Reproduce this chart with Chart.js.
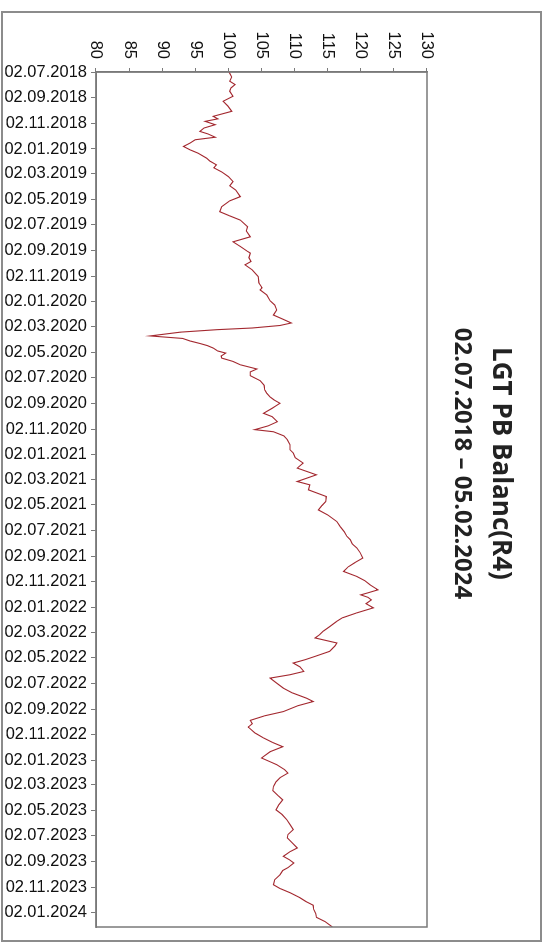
<!DOCTYPE html>
<html lang="de">
<head>
    <meta charset="UTF-8">
    <title>LGT PB Balanc(R4)</title>
    <style>
        body {
            margin: 0;
            width: 548px;
            height: 943px;
            overflow: hidden;
            background: #fff;
            position: relative;
        }

        /* scanned page frame */
        .frame {
            position: absolute;
            left: 1px;
            top: 11px;
            width: 537px;
            height: 927px;
            border: 2px solid #8c8c8c;
        }

        /* the chart is printed sideways: draw it landscape, turn it 90deg */
        .turn {
            position: absolute;
            left: 548px;
            top: 0;
            width: 943px;
            height: 548px;
            transform-origin: 0 0;
            transform: rotate(90deg);
        }
    </style>
</head>
<body>
    <div class="turn"><canvas id="chart" width="943" height="548"></canvas></div>
    <div class="frame"></div>
    <script src="https://cdn.jsdelivr.net/npm/chart.js"></script>
    <script>
        // Series start and end
        const startDate = '02.07.2018';
        const endDate = '05.02.2024';

        // Date axis tick labels
        const tickLabels = [
            '02.07.2018', '02.09.2018', '02.11.2018',
            '02.01.2019', '02.03.2019', '02.05.2019', '02.07.2019', '02.09.2019', '02.11.2019',
            '02.01.2020', '02.03.2020', '02.05.2020', '02.07.2020', '02.09.2020', '02.11.2020',
            '02.01.2021', '02.03.2021', '02.05.2021', '02.07.2021', '02.09.2021', '02.11.2021',
            '02.01.2022', '02.03.2022', '02.05.2022', '02.07.2022', '02.09.2022', '02.11.2022',
            '02.01.2023', '02.03.2023', '02.05.2023', '02.07.2023', '02.09.2023', '02.11.2023',
            '02.01.2024'
        ];

        // Value axis
        const valueMin = 80;
        const valueMax = 130;
        const valueStep = 5;

        // Days since 02.07.2018 of each read point
        const days = [
            0, 12, 22, 30, 38, 46, 58, 70, 81, 94,
            106, 112, 118, 126, 134, 142, 148, 156, 162, 170,
            178, 186, 194, 206, 213, 222, 229, 239, 250, 262,
            272, 282, 298, 308, 322, 334, 344, 354, 370, 380,
            394, 406, 417, 428, 433, 444, 453, 461, 473, 489,
            504, 516, 521, 533, 547, 557, 569, 581, 590, 600,
            606, 612, 616, 622, 631, 637, 643, 649, 654, 660,
            667, 672, 679, 684, 692, 700, 710, 717, 726, 738,
            749, 760, 768, 777, 784, 792, 798, 804, 816, 824,
            836, 846, 855, 860, 870, 879, 891, 903, 911, 922,
            935, 947, 963, 979, 987, 999, 1015, 1027, 1037, 1047,
            1059, 1075, 1087, 1099, 1110, 1118, 1128, 1138, 1149, 1162,
            1173, 1183, 1194, 1206, 1216, 1226, 1238, 1245, 1250, 1256,
            1262, 1271, 1281, 1293, 1305, 1314, 1326, 1337, 1345, 1353,
            1365, 1372, 1385, 1397, 1405, 1413, 1422, 1433, 1441, 1449,
            1460, 1473, 1484, 1497, 1505, 1515, 1529, 1539, 1550, 1558,
            1566, 1580, 1592, 1603, 1613, 1625, 1640, 1649, 1656, 1668,
            1676, 1687, 1697, 1708, 1718, 1730, 1740, 1752, 1764, 1775,
            1787, 1799, 1811, 1823, 1831, 1842, 1855, 1864, 1875, 1883,
            1891, 1902, 1909, 1919, 1931, 1943, 1952, 1962, 1974, 1983,
            1992, 2002, 2012, 2021, 2031, 2044
        ];

        // Indexed price (start = 100)
        const values = [
            100.1, 100.5, 100.2, 101.0, 100.4, 100.2, 100.7, 99.2, 99.9, 100.5,
            97.7, 98.4, 96.5, 98.0, 96.3, 95.7, 96.9, 98.0, 95.0, 94.2,
            93.2, 94.2, 95.4, 96.7, 97.2, 98.2, 97.8, 99.0, 100.0, 100.7,
            100.2, 101.1, 101.8, 100.2, 99.0, 98.7, 100.2, 101.8, 102.9, 102.7,
            103.3, 100.7, 101.8, 102.8, 103.3, 103.1, 103.4, 102.5, 103.6, 104.5,
            104.6, 105.1, 104.8, 105.8, 106.3, 107.0, 107.3, 106.8, 108.1, 109.5,
            107.8, 103.6, 98.3, 92.7, 88.2, 93.1, 94.2, 95.7, 96.8, 97.7,
            98.4, 99.6, 98.9, 99.0, 100.7, 101.8, 104.3, 103.3, 103.3, 104.8,
            105.4, 105.5, 105.8, 106.3, 106.9, 107.8, 107.2, 106.6, 105.3, 106.6,
            107.4, 106.0, 104.0, 106.8, 108.4, 108.9, 109.3, 109.3, 109.8, 110.1,
            111.3, 110.4, 113.3, 110.4, 112.3, 112.1, 114.8, 114.7, 114.1, 113.6,
            115.0, 116.4, 116.9, 117.5, 117.9, 118.4, 118.7, 119.4, 119.9, 120.3,
            119.1, 118.1, 117.4, 119.4, 120.6, 121.4, 122.6, 121.1, 120.0, 121.1,
            121.6, 120.8, 121.9, 119.4, 117.2, 116.3, 115.3, 114.3, 113.8, 113.1,
            116.4, 116.1, 115.3, 113.1, 111.6, 109.8, 110.8, 111.4, 109.3, 106.3,
            107.2, 108.3, 109.6, 111.8, 112.8, 110.5, 108.3, 105.5, 103.3, 103.6,
            103.0, 104.0, 105.3, 106.7, 108.2, 106.3, 105.0, 106.3, 107.3, 108.5,
            109.0, 107.8, 107.2, 106.8, 106.7, 107.5, 108.2, 107.6, 107.2, 108.1,
            108.8, 109.3, 109.8, 109.0, 108.9, 109.6, 110.4, 109.3, 108.3, 109.2,
            109.9, 109.0, 108.2, 107.8, 107.0, 106.8, 107.8, 109.3, 110.8, 111.7,
            112.8, 112.9, 113.2, 113.3, 114.6, 115.7
        ];

        // dd.mm.yyyy -> days since start
        function dayOf(label) {
            const [d, m, y] = label.split('.').map(Number);
            const [d0, m0, y0] = startDate.split('.').map(Number);
            return Math.round((Date.UTC(y, m - 1, d) - Date.UTC(y0, m0 - 1, d0)) / 86400000);
        }

        const tickDays = tickLabels.map(dayOf);
        const points = days.map((d, i) => ({ x: d, y: values[i] }));

        const axisColor = '#7a7a7a';
        const tickFont = { family: '"Liberation Sans", Arial, sans-serif', size: 16.5 };

        // border round the whole plot area
        const boxPlugin = {
            id: 'box',
            afterDraw(chart) {
                const { ctx, chartArea: a } = chart;
                ctx.save();
                ctx.strokeStyle = axisColor;
                ctx.lineWidth = 1.5;
                ctx.strokeRect(a.left, a.top, a.right - a.left, a.bottom - a.top);
                ctx.restore();
            }
        };

        new Chart(document.getElementById('chart'), {
            type: 'line',
            data: {
                datasets: [{
                    data: points,
                    borderColor: '#a3282f',
                    borderWidth: 1.1,
                    pointRadius: 0,
                    tension: 0
                }]
            },
            options: {
                responsive: false,
                animation: false,
                layout: { padding: { left: 0, right: 16, top: 0, bottom: 0 } },
                plugins: {
                    legend: { display: false },
                    tooltip: { enabled: false },
                    title: {
                        display: true,
                        text: 'LGT PB Balanc(R4)',
                        color: '#222',
                        font: { family: '"Open Sans", sans-serif', size: 26, weight: 'bold', lineHeight: 1.2 },
                        padding: { top: 32, bottom: 0 }
                    },
                    subtitle: {
                        display: true,
                        text: startDate + ' – ' + endDate,
                        color: '#222',
                        font: { family: '"Open Sans", sans-serif', size: 24, weight: 'bold', lineHeight: 1.2 },
                        padding: { top: 8.4, bottom: 20.6 }
                    }
                },
                scales: {
                    x: {
                        type: 'linear',
                        min: 0,
                        max: dayOf(endDate),
                        afterBuildTicks: s => { s.ticks = tickDays.map(v => ({ value: v })); },
                        afterFit: s => { s.height = 96; },
                        ticks: {
                            autoSkip: false,
                            minRotation: 90,
                            maxRotation: 90,
                            padding: 4,
                            color: '#111',
                            font: tickFont,
                            callback: (v, i) => tickLabels[i]
                        },
                        grid: { drawOnChartArea: false, tickLength: 5, color: axisColor },
                        border: { color: axisColor, width: 1.5 }
                    },
                    y: {
                        min: valueMin,
                        max: valueMax,
                        afterFit: s => { s.width = 72; },
                        ticks: { stepSize: valueStep, padding: 9, color: '#111', font: tickFont },
                        grid: { drawOnChartArea: false, tickLength: 4, color: axisColor },
                        border: { color: axisColor, width: 1.5 }
                    }
                }
            },
            plugins: [boxPlugin]
        });
    </script>
</body>
</html>
